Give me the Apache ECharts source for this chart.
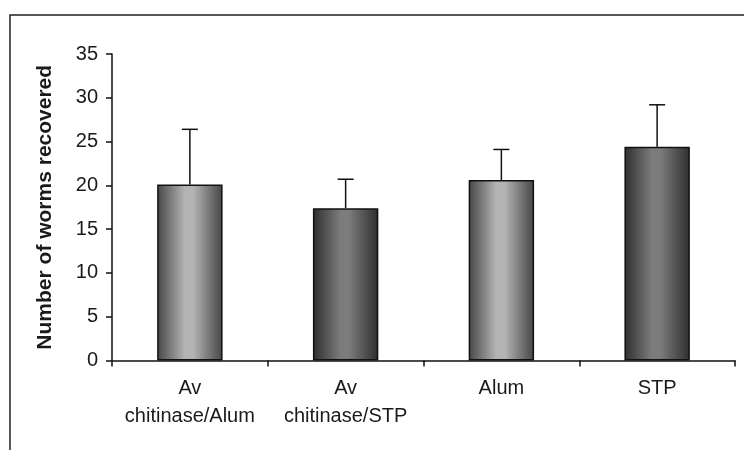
<!DOCTYPE html>
<html>
<head>
<meta charset="utf-8">
<script src="https://cdn.jsdelivr.net/npm/echarts@6/dist/echarts.min.js"></script>
<style>html,body{margin:0;padding:0;background:#fff}#c{width:744px;height:450px}</style>
</head>
<body>
<div id="c"></div>
<script>
var categories = ['Av\nchitinase/Alum', 'Av\nchitinase/STP', 'Alum', 'STP'];
var means = [20.1, 17.4, 20.6, 24.4];
var errors = [6.3, 3.3, 3.5, 4.8];
var yTicks = [0, 5, 10, 15, 20, 25, 30, 35];

var font = '"Liberation Sans", Arial, Helvetica, sans-serif';

function grad(edge, mid) {
  return new echarts.graphic.LinearGradient(0, 0, 1, 0, [
    {offset: 0, color: edge},
    {offset: 0.42, color: mid},
    {offset: 0.55, color: mid},
    {offset: 1, color: edge}
  ]);
}
var lightFill = grad('#454545', '#b4b4b4');
var darkFill = grad('#2e2e2e', '#7c7c7c');

var chart = echarts.init(document.getElementById('c'), null, {renderer: 'canvas'});
chart.setOption({
  animation: false,
  backgroundColor: '#fff',
  graphic: [{
    type: 'rect', z: 0,
    shape: {x: 10, y: 15, width: 800, height: 500},
    style: {fill: 'none', stroke: '#222', lineWidth: 1.5}
  }],
  grid: {left: 112, right: 9, top: 54, bottom: 89.5, containLabel: false},
  xAxis: {
    type: 'category',
    data: categories,
    axisLine: {lineStyle: {color: '#111', width: 1.5}},
    axisTick: {show: true, length: 6, lineStyle: {color: '#111', width: 1.5}},
    axisLabel: {color: '#1a1a1a', fontSize: 20, fontFamily: font, lineHeight: 28, margin: 14, interval: 0}
  },
  yAxis: {
    type: 'value',
    min: yTicks[0], max: yTicks[yTicks.length - 1], interval: 5,
    name: 'Number of worms recovered',
    nameLocation: 'middle',
    nameGap: 56,
    nameRotate: 90,
    nameTextStyle: {color: '#1a1a1a', fontSize: 21, fontWeight: 'bold', fontFamily: font},
    axisLine: {show: true, lineStyle: {color: '#111', width: 1.5}},
    axisTick: {show: true, length: 6, lineStyle: {color: '#111', width: 1.5}},
    axisLabel: {color: '#1a1a1a', fontSize: 20, fontFamily: font, margin: 14},
    splitLine: {show: false}
  },
  series: [{
    type: 'bar',
    barWidth: '42%',
    data: means.map(function (v, i) {
      return {value: v, itemStyle: {color: i % 2 === 0 ? lightFill : darkFill}};
    }),
    itemStyle: {borderColor: '#111', borderWidth: 1.5},
    z: 2
  }, {
    type: 'custom',
    z: 3,
    data: means.map(function (v, i) { return [i, v, v + errors[i]]; }),
    renderItem: function (params, api) {
      var base = api.coord([api.value(0), api.value(1)]);
      var top = api.coord([api.value(0), api.value(2)]);
      var half = 8;
      return {
        type: 'group',
        children: [
          {type: 'line', shape: {x1: base[0], y1: base[1], x2: top[0], y2: top[1]}, style: {stroke: '#111', lineWidth: 1.5}},
          {type: 'line', shape: {x1: top[0] - half, y1: top[1], x2: top[0] + half, y2: top[1]}, style: {stroke: '#111', lineWidth: 1.5}}
        ]
      };
    }
  }]
});
</script>
</body>
</html>
